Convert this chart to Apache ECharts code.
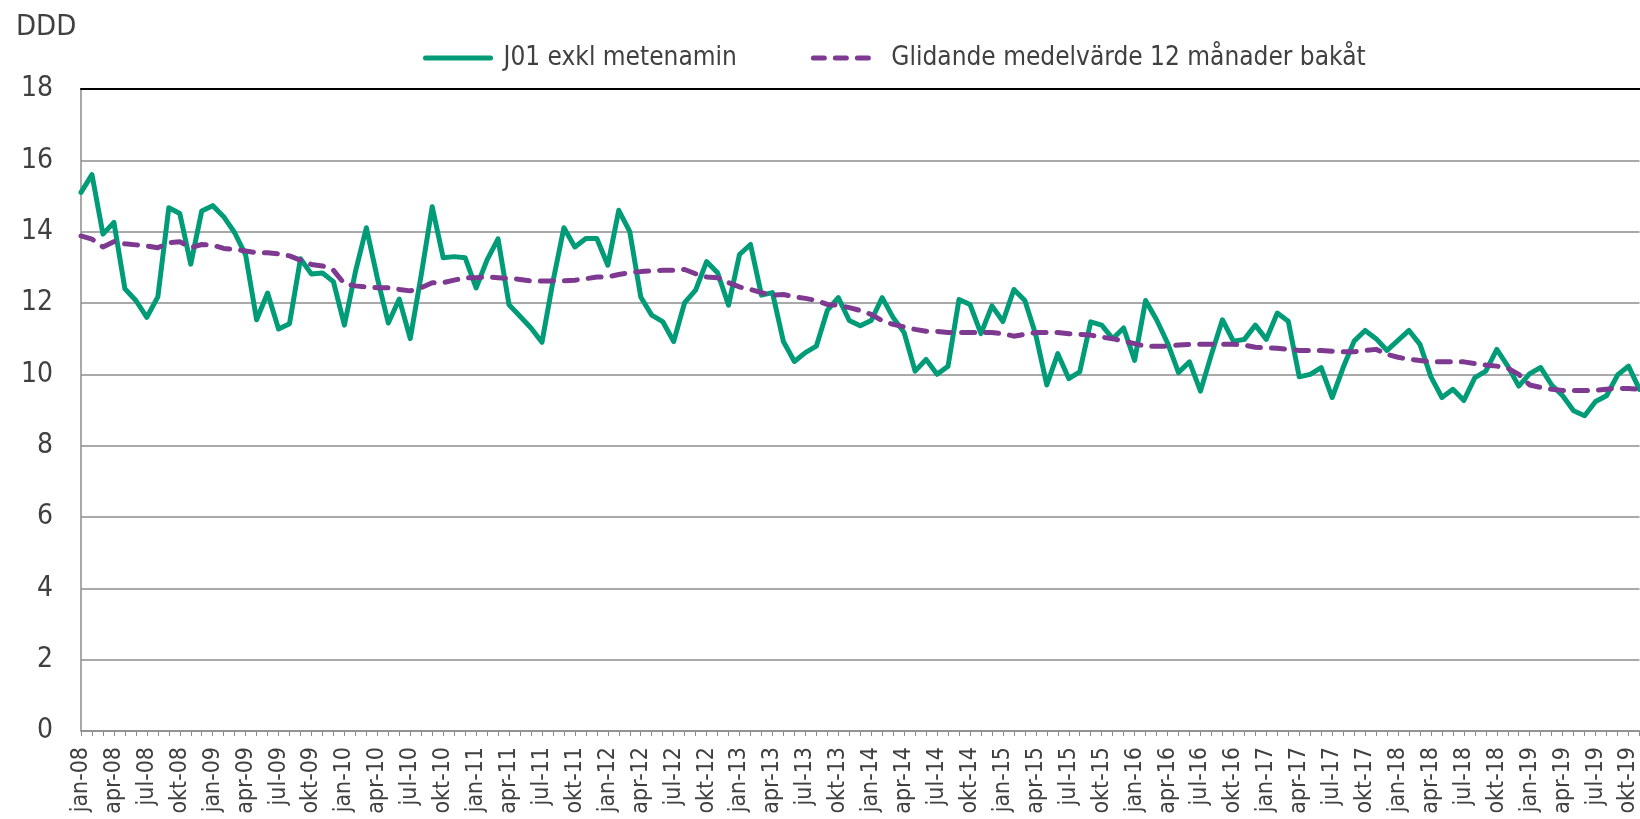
<!DOCTYPE html>
<html>
<head>
<meta charset="utf-8">
<script src="https://cdn.jsdelivr.net/npm/echarts@6/dist/echarts.min.js"></script>
<style>
  html, body { margin: 0; padding: 0; background: #ffffff; }
  #chart { width: 1640px; height: 819px; }
</style>
</head>
<body>
<div id="chart"></div>
<script>
// Month names (Swedish) and years for the category axis
const monthNames = ['jan','feb','mar','apr','maj','jun','jul','aug','sep','okt','nov','dec'];
const years = ['08','09','10','11','12','13','14','15','16','17','18','19'];
const lastMonthOf2019 = 10; // data ends nov-19

const seriesNames = ['J01 exkl metenamin', 'Glidande medelvärde 12 månader bakåt'];

// Monthly values, jan-08 .. nov-19
const j01Values = [
  15.10, 15.60, 13.93, 14.26, 12.40, 12.07, 11.60, 12.17, 14.67, 14.51, 13.09, 14.58,
  14.73, 14.42, 13.97, 13.35, 11.53, 12.28, 11.27, 11.42, 13.24, 12.81, 12.84, 12.60,
  11.38, 12.87, 14.11, 12.70, 11.44, 12.11, 11.00, 12.79, 14.70, 13.27, 13.30, 13.27,
  12.42, 13.21, 13.80, 11.95, 11.63, 11.30, 10.90, 12.60, 14.11, 13.57, 13.81, 13.81,
  13.06, 14.60, 14.00, 12.17, 11.66, 11.48, 10.92, 12.01, 12.36, 13.16, 12.85, 11.94,
  13.36, 13.64, 12.22, 12.29, 10.92, 10.36, 10.61, 10.79, 11.79, 12.15, 11.51, 11.36,
  11.51, 12.15, 11.59, 11.17, 10.09, 10.42, 10.00, 10.23, 12.10, 11.96, 11.14, 11.92,
  11.48, 12.38, 12.07, 11.10,  9.70, 10.58,  9.88, 10.07, 11.47, 11.38, 11.00, 11.30,
  10.39, 12.07, 11.53, 10.88, 10.05, 10.35,  9.53, 10.56, 11.53, 10.93, 10.98, 11.38,
  10.98, 11.72, 11.49,  9.93, 10.00, 10.19,  9.35, 10.19, 10.93, 11.23, 11.00, 10.67,
  10.95, 11.23, 10.84,  9.93,  9.35,  9.58,  9.27,  9.91, 10.09, 10.70, 10.23,  9.67,
  10.02, 10.19,  9.70,  9.40,  8.98,  8.84,  9.24,  9.40,  9.98, 10.23,  9.58
];

const movingAvgValues = [
  13.88, 13.79, 13.57, 13.72, 13.66, 13.63, 13.60, 13.55, 13.69, 13.72, 13.55, 13.64,
  13.62, 13.53, 13.50, 13.46, 13.41, 13.41, 13.38, 13.32, 13.20, 13.08, 13.04, 12.92,
  12.54, 12.48, 12.45, 12.43, 12.43, 12.38, 12.34, 12.43, 12.57, 12.57, 12.64, 12.71,
  12.71, 12.73, 12.71, 12.69, 12.66, 12.62, 12.62, 12.62, 12.62, 12.64, 12.68, 12.73,
  12.73, 12.80, 12.85, 12.88, 12.90, 12.92, 12.92, 12.94, 12.82, 12.73, 12.71, 12.57,
  12.45, 12.38, 12.29, 12.22, 12.24, 12.17, 12.13, 12.07, 11.96, 11.94, 11.87, 11.79,
  11.68, 11.50, 11.40, 11.33, 11.26, 11.21, 11.20, 11.17, 11.17, 11.17, 11.17, 11.17,
  11.14, 11.07, 11.12, 11.17, 11.17, 11.17, 11.14, 11.12, 11.10, 11.04, 11.00, 10.93,
  10.86, 10.79, 10.79, 10.79, 10.82, 10.84, 10.84, 10.84, 10.84, 10.84, 10.82, 10.76,
  10.74, 10.73, 10.70, 10.67, 10.67, 10.67, 10.65, 10.63, 10.63, 10.67, 10.70, 10.56,
  10.48, 10.42, 10.39, 10.35, 10.35, 10.35, 10.35, 10.30, 10.26, 10.23, 10.17, 10.00,
   9.70,  9.63,  9.58,  9.55,  9.55,  9.55,  9.55,  9.58,  9.61,  9.60,  9.58
];

const yTicks = { min: 0, max: 18, interval: 2 };
const yAxisTitle = 'DDD';

const categories = [];
years.forEach((y, yi) => {
  monthNames.forEach((m, mi) => {
    if (yi === years.length - 1 && mi > lastMonthOf2019) return;
    categories.push(m + '-' + y);
  });
});

const FONT = '"DejaVu Sans Condensed", "DejaVu Sans", sans-serif';
const TEXT = '#404040';
const GRID = '#8c8c8c';
const GREEN = '#009B77';
const PURPLE = '#7E3A91';
const DASH = [13, 11];

const chart = echarts.init(document.getElementById('chart'), null, { renderer: 'canvas' });
chart.setOption({
  animation: false,
  backgroundColor: '#ffffff',
  title: {
    text: yAxisTitle,
    left: 11, top: 8,
    textStyle: { fontFamily: FONT, fontSize: 29, fontWeight: 'normal', color: TEXT }
  },
  legend: {
    left: 418, top: 40,
    itemWidth: 65, itemHeight: 24, itemGap: 74,
    itemStyle: { opacity: 0 },
    textStyle: { fontFamily: FONT, fontSize: 26, color: TEXT, padding: [0, 0, 0, 8] },
    data: [
      { name: seriesNames[0], lineStyle: { color: GREEN, width: 5, type: 'solid', cap: 'round' } },
      { name: seriesNames[1], lineStyle: { color: PURPLE, width: 5, type: [11, 11], cap: 'round' } }
    ]
  },
  grid: { left: 81, top: 89, right: 0, bottom: 88, containLabel: false },
  xAxis: [{
    type: 'category',
    data: categories,
    boundaryGap: false,
    axisLine: { show: true, lineStyle: { color: GRID, width: 1.5 } },
    axisTick: { show: true, interval: 0, length: 5, lineStyle: { color: GRID, width: 1 } },
    axisLabel: {
      interval: 2, rotate: 90, margin: 16,
      fontFamily: FONT, fontSize: 23, color: TEXT
    },
    splitLine: { show: false }
  }, {
    type: 'category',
    position: 'top',
    data: categories,
    boundaryGap: false,
    axisLine: { show: true, lineStyle: { color: '#000000', width: 2 } },
    axisTick: { show: false },
    axisLabel: { show: false },
    splitLine: { show: false }
  }],
  yAxis: {
    type: 'value',
    min: yTicks.min, max: yTicks.max, interval: yTicks.interval,
    axisLine: { show: true, lineStyle: { color: GRID, width: 1.5 } },
    axisTick: { show: false },
    axisLabel: { margin: 28, fontFamily: FONT, fontSize: 28, color: TEXT },
    splitLine: { show: true, lineStyle: { color: GRID, width: 1.5 } }
  },
  series: [{
    name: seriesNames[0],
    type: 'line',
    data: j01Values,
    symbol: 'none',
    smooth: false,
    z: 3,
    itemStyle: { color: GREEN },
    lineStyle: { color: GREEN, width: 5, cap: 'round', join: 'round' }
  }, {
    name: seriesNames[1],
    type: 'line',
    data: movingAvgValues,
    symbol: 'none',
    smooth: false,
    z: 4,
    itemStyle: { color: PURPLE },
    lineStyle: { color: PURPLE, width: 5, type: DASH, cap: 'round', join: 'round' }
  }]
});
</script>
</body>
</html>
